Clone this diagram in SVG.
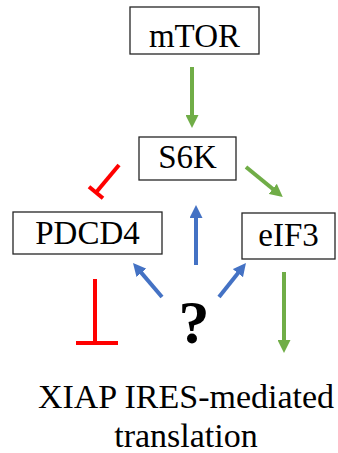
<svg xmlns="http://www.w3.org/2000/svg" width="338" height="453" viewBox="0 0 338 453">
  <style>
    .box { fill: #ffffff; stroke: #262626; stroke-width: 1.3; }
    .lbl { font-family: "Liberation Serif", "Times New Roman", serif; font-size: 33px; fill: #000000; text-anchor: middle; }
    .big { font-size: 34px; }
    .act { stroke: #70AD47; stroke-width: 4; fill: none; }
    .blue { stroke: #4472C4; stroke-width: 4; fill: none; }
    .inh { stroke: #FF0000; stroke-width: 4; fill: none; }
  </style>
  <defs>
    <marker id="headGreen" viewBox="0 0 13 13" refX="1" refY="6.5" markerWidth="13" markerHeight="13" markerUnits="userSpaceOnUse" orient="auto">
      <path d="M0,0 L13,6.5 L0,13 z" fill="#70AD47"/>
    </marker>
    <marker id="headBlue" viewBox="0 0 13 13" refX="1" refY="6.5" markerWidth="13" markerHeight="13" markerUnits="userSpaceOnUse" orient="auto">
      <path d="M0,0 L13,6.5 L0,13 z" fill="#4472C4"/>
    </marker>
  </defs>

  <g id="connectors">
    <!-- mTOR -> S6K -->
    <line class="act" x1="192" y1="67" x2="192" y2="116" marker-end="url(#headGreen)"/>
    <!-- S6K -> eIF3 -->
    <line class="act" x1="246" y1="167" x2="273.5" y2="189.5" marker-end="url(#headGreen)"/>
    <!-- S6K -| PDCD4 -->
    <line class="inh" x1="119" y1="165" x2="96" y2="192.5"/>
    <line class="inh" x1="89" y1="186.7" x2="103" y2="198.3"/>
    <!-- ? -> S6K -->
    <line class="blue" x1="196" y1="265" x2="196" y2="217" marker-end="url(#headBlue)"/>
    <!-- ? -> PDCD4 -->
    <line class="blue" x1="162" y1="297" x2="140.8" y2="272.1" marker-end="url(#headBlue)"/>
    <!-- ? -> eIF3 -->
    <line class="blue" x1="219" y1="297" x2="238.5" y2="272.4" marker-end="url(#headBlue)"/>
    <!-- PDCD4 -| translation -->
    <line class="inh" x1="95" y1="279" x2="95" y2="343"/>
    <line class="inh" x1="76" y1="343" x2="118" y2="343"/>
    <!-- eIF3 -> translation -->
    <line class="act" x1="284" y1="272" x2="284" y2="341" marker-end="url(#headGreen)"/>
  </g>

  <g id="mTOR">
    <rect class="box" x="130" y="7" width="129" height="47"/>
    <text class="lbl" x="194.5" y="47">mTOR</text>
  </g>
  <g id="S6K">
    <rect class="box" x="139" y="137" width="97" height="43"/>
    <text class="lbl" x="187.5" y="168">S6K</text>
  </g>
  <g id="PDCD4">
    <rect class="box" x="13" y="212" width="149" height="42"/>
    <text class="lbl" x="87.5" y="244">PDCD4</text>
  </g>
  <g id="eIF3">
    <rect class="box" x="242" y="213" width="93" height="46"/>
    <text class="lbl" x="288.5" y="246">eIF3</text>
  </g>
  <g id="unknown">
    <text x="194" y="343" font-family="Liberation Serif, serif" font-weight="bold" font-size="62" text-anchor="middle" fill="#000000">?</text>
  </g>
  <g id="translation">
    <text class="lbl big" x="186" y="408">XIAP IRES-mediated</text>
    <text class="lbl big" x="186" y="447">translation</text>
  </g>
</svg>
